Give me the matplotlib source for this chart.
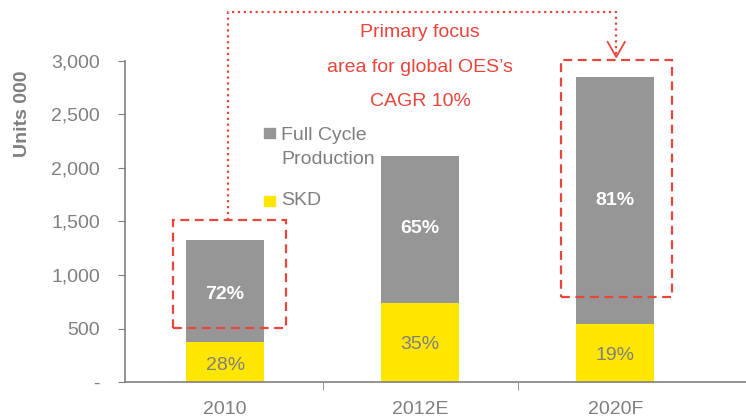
import numpy as np
from matplotlib import pyplot as plt
from matplotlib.patches import Rectangle

# data
years = ["2010", "2012E", "2020F"]
skd = [370, 740, 540]
full_cycle = [960, 1370, 2310]
skd_pct = ["28%", "35%", "19%"]
full_pct = ["72%", "65%", "81%"]

grey = "#969696"
yellow = "#FFE600"
text_grey = "#7F7F7F"
red = "#E8453C"

plt.rcParams["font.family"] = ["Liberation Sans", "DejaVu Sans"]

fig = plt.figure(figsize=(7.46, 4.18), dpi=100)
ax = fig.add_axes([0.1676, 0.0861, 0.8324, 0.768])

x = np.arange(len(years))
w = 0.4
ax.bar(x, skd, w, color=yellow, label="SKD")
ax.bar(x, full_cycle, w, bottom=skd, color=grey, label="Full Cycle\nProduction")

# percentage labels (placed where the reference has them)
full_lab_y = [820, 1430, 1700]
skd_lab_y = [150, 355, 250]
for i in range(len(years)):
    ax.text(x[i], full_lab_y[i], full_pct[i], ha="center", va="center",
            color="white", fontsize=14, fontweight="bold")
    ax.text(x[i], skd_lab_y[i], skd_pct[i], ha="center", va="center",
            color=text_grey, fontsize=14)

ax.set_xlim(-0.513, 2.67)
ax.set_ylim(0, 3000)
ax.set_yticks(np.arange(0, 3001, 500))
ax.set_yticklabels(["-", "500", "1,000", "1,500", "2,000", "2,500", "3,000"])
ax.set_xticks(x)
ax.set_xticklabels(years)
ax.set_xticks([0.5, 1.5], minor=True)
ax.tick_params(axis="x", which="major", length=0, pad=14, labelsize=14, colors=text_grey)
ax.tick_params(axis="x", which="minor", length=6, color=text_grey, direction="out")
ax.tick_params(axis="y", length=5, color=text_grey, labelcolor=text_grey, labelsize=14, pad=13)
for s in ["top", "right"]:
    ax.spines[s].set_visible(False)
for s in ["left", "bottom"]:
    ax.spines[s].set_color(text_grey)
    ax.spines[s].set_linewidth(1.2)
ax.set_ylabel("Units 000", color=text_grey, fontsize=14, fontweight="bold")
ax.yaxis.set_label_coords(-0.152, 0.835)

# legend drawn by hand
ax.add_patch(Rectangle((0.2, 2280), 0.056, 95, color=grey, clip_on=False))
ax.text(0.287, 2262, "Full Cycle", va="baseline", ha="left", color=text_grey, fontsize=14)
ax.text(0.287, 2037, "Production", va="baseline", ha="left", color=text_grey, fontsize=14)
ax.add_patch(Rectangle((0.2, 1645), 0.056, 95, color=yellow, clip_on=False))
ax.text(0.287, 1650, "SKD", va="baseline", ha="left", color=text_grey, fontsize=14)

# dashed highlight boxes
ax.add_patch(Rectangle((-0.267, 505), 0.577, 1010, fill=False, ec=red, ls=(0, (4, 2.5)),
                       lw=1.6, clip_on=False))
ax.add_patch(Rectangle((1.72, 795), 0.57, 2215, fill=False, ec=red, ls=(0, (4, 2.5)),
                       lw=1.6, clip_on=False))

# dotted connector with arrow
ax.plot([0.015, 0.015, 2.005, 2.005], [1515, 3458, 3458, 3040], color=red, ls=":",
        lw=1.6, clip_on=False)
ax.plot([1.961, 2.005, 2.049], [3178, 3037, 3178], color=red, lw=1.3, clip_on=False)

# annotation text
for yy, t in zip([3262, 2935, 2626], ["Primary focus", "area for global OES\u2019s", "CAGR 10%"]):
    ax.text(1.0, yy, t, ha="center", va="center", color=red, fontsize=14, clip_on=False)

fig.savefig("out.png", dpi=100)
